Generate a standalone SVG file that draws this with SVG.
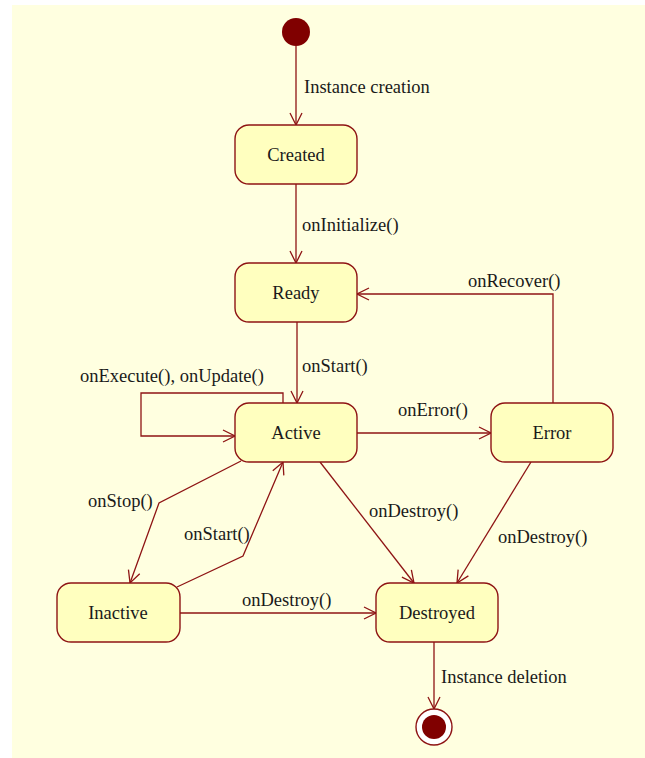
<svg xmlns="http://www.w3.org/2000/svg" width="645" height="758" viewBox="0 0 645 758">
  <style>
    .state rect { fill: #FFFFBF; stroke: #8E1414; stroke-width: 1.4; }
    .state text { font-family: "Liberation Serif", "Times New Roman", serif; font-size: 18.5px; fill: #1A1A1A; text-anchor: middle; }
    .edge { fill: none; stroke: #8E1414; stroke-width: 1.3; marker-end: url(#open); }
    .lbl { font-family: "Liberation Serif", "Times New Roman", serif; font-size: 18.5px; fill: #1A1A1A; }
  </style>
  <defs>
    <marker id="open" markerUnits="userSpaceOnUse" viewBox="0 0 14 14" refX="13" refY="7" markerWidth="14" markerHeight="14" orient="auto">
      <path d="M1,1 L13,7 L1,13" fill="none" stroke="#8E1414" stroke-width="1.3"/>
    </marker>
  </defs>

  <!-- canvas -->
  <rect x="12" y="5" width="633" height="753" fill="#FFFFE0"/>

  <!-- transitions -->
  <g id="connectors">
    <path class="edge" d="M296,46 L296,125"/>
    <path class="edge" d="M296,184 L296,263"/>
    <path class="edge" d="M297,322 L297,403"/>
    <path class="edge" d="M283,403 L283,393 L141,393 L141,436 L235,436"/>
    <path class="edge" d="M357,433 L491,433"/>
    <path class="edge" d="M553,403 L553,294 L357,294"/>
    <path class="edge" d="M241,461 L159,503 L130,583"/>
    <path class="edge" d="M177,587 L243,556 L283,462"/>
    <path class="edge" d="M320,462 L414,583"/>
    <path class="edge" d="M531,462 L457,583"/>
    <path class="edge" d="M180,613 L376,613"/>
    <path class="edge" d="M434,642 L434,709"/>
  </g>

  <!-- transition labels -->
  <g id="labels">
    <text class="lbl" x="304" y="93">Instance creation</text>
    <text class="lbl" x="302" y="231">onInitialize()</text>
    <text class="lbl" x="302" y="372">onStart()</text>
    <text class="lbl" x="80" y="382">onExecute(), onUpdate()</text>
    <text class="lbl" x="398" y="416">onError()</text>
    <text class="lbl" x="468" y="287">onRecover()</text>
    <text class="lbl" x="88" y="507">onStop()</text>
    <text class="lbl" x="184" y="540">onStart()</text>
    <text class="lbl" x="369" y="517">onDestroy()</text>
    <text class="lbl" x="498" y="543">onDestroy()</text>
    <text class="lbl" x="242" y="606">onDestroy()</text>
    <text class="lbl" x="441" y="683">Instance deletion</text>
  </g>

  <!-- pseudo-states -->
  <g id="initial">
    <circle cx="296" cy="32" r="14" fill="#800000"/>
  </g>
  <g id="final">
    <circle cx="434" cy="727" r="18" fill="#FFFFFF" stroke="#8E1414" stroke-width="1.4"/>
    <circle cx="434" cy="727" r="12" fill="#800000"/>
  </g>

  <!-- states -->
  <g id="created" class="state">
    <rect x="235" y="125" width="122" height="59" rx="14"/>
    <text x="296" y="161">Created</text>
  </g>
  <g id="ready" class="state">
    <rect x="235" y="263" width="122" height="59" rx="14"/>
    <text x="296" y="299">Ready</text>
  </g>
  <g id="active" class="state">
    <rect x="235" y="403" width="122" height="59" rx="14"/>
    <text x="296" y="439">Active</text>
  </g>
  <g id="error" class="state">
    <rect x="491" y="403" width="122" height="59" rx="14"/>
    <text x="552" y="439">Error</text>
  </g>
  <g id="inactive" class="state">
    <rect x="57" y="583" width="123" height="59" rx="14"/>
    <text x="118" y="619">Inactive</text>
  </g>
  <g id="destroyed" class="state">
    <rect x="376" y="583" width="122" height="59" rx="14"/>
    <text x="437" y="619">Destroyed</text>
  </g>
</svg>
